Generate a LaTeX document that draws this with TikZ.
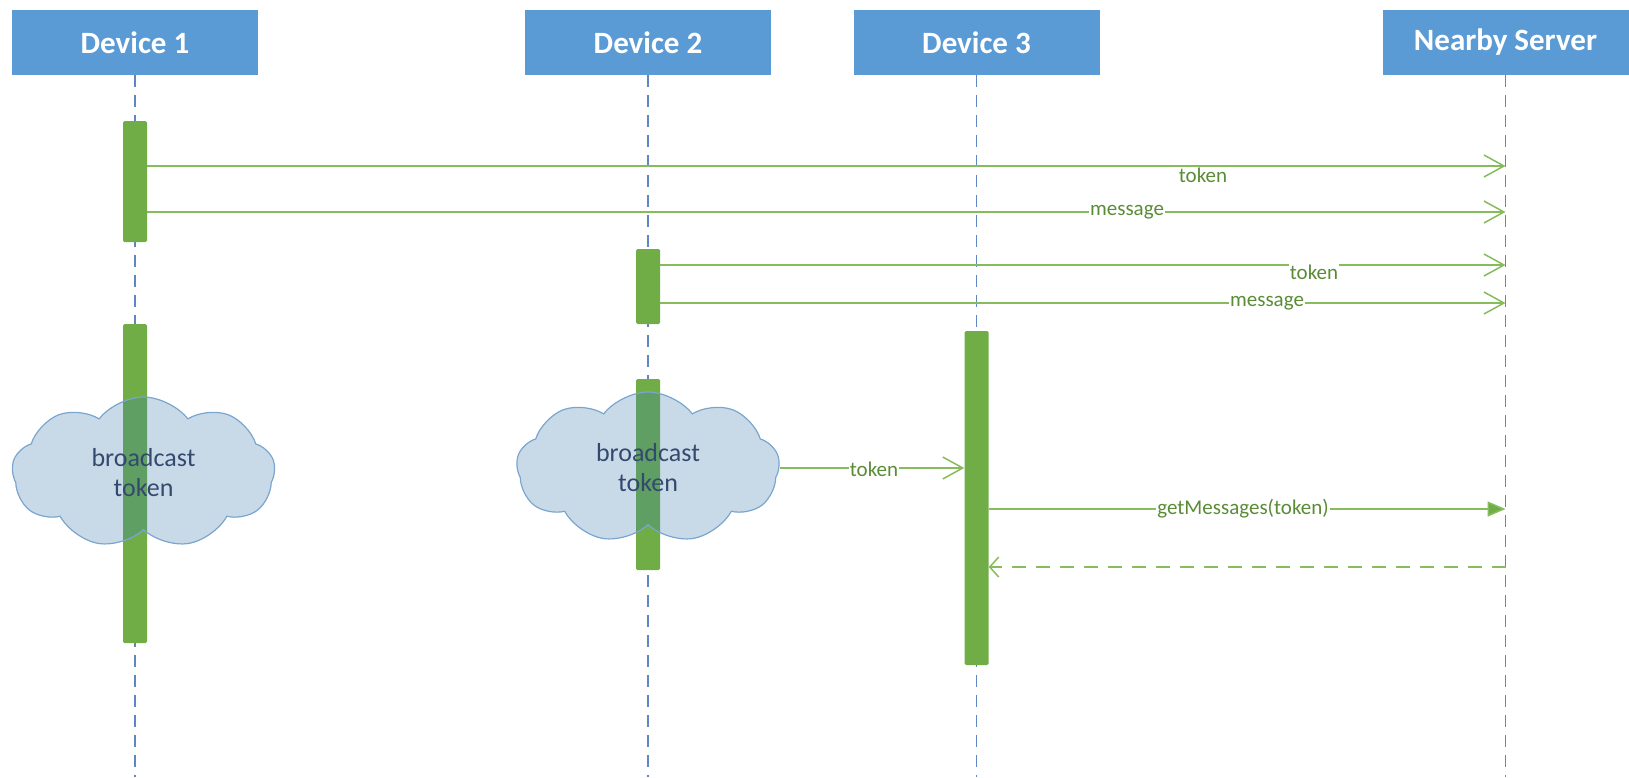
\documentclass[tikz,border=0pt]{standalone}
\usepackage{fontspec}
\setmainfont{Carlito}
\usetikzlibrary{arrows.meta,shapes.symbols}

\definecolor{hdr}{HTML}{5B9BD5}
\definecolor{life}{HTML}{5E86C1}
\definecolor{barfill}{HTML}{70AD47}
\definecolor{msg}{HTML}{86BC5C}
\definecolor{msgtext}{HTML}{5A8C36}
\definecolor{cloudline}{HTML}{7AA5CF}
\definecolor{cloudtint}{RGB}{58,123,173}
\definecolor{cloudtext}{HTML}{34496E}

\begin{document}
\begin{tikzpicture}[x=1pt,y=-1pt,
  header/.style={fill=hdr, text=white, font=\fontsize{31}{36}\selectfont\bfseries,
    minimum width=246pt, minimum height=65pt, inner sep=0pt},
  lifeline/.style={draw=life, line width=1.3pt, dash pattern=on 12pt off 8pt},
  activation/.style={fill=barfill, minimum width=24pt, inner sep=0pt, rounded corners=1.5pt},
  bubble/.style={cloud, cloud puffs=9, cloud puff arc=105, cloud ignores aspect,
    minimum width=263pt, minimum height=151pt, inner sep=0pt,
    draw=cloudline, line width=1.2pt, fill=cloudtint, fill opacity=0.28},
  bubbletext/.style={text=cloudtext, font=\fontsize{26}{30}\selectfont, align=center, inner sep=0pt},
  call/.style={draw=msg, line width=1.5pt, -{Straight Barb[length=20pt,width=22pt]}},
  sync/.style={draw=msg, line width=1.5pt, -{Triangle[length=18pt,width=15pt,fill=barfill]}},
  reply/.style={draw=msg, line width=1.5pt, dash pattern=on 14pt off 10pt,
    -{Straight Barb[length=9pt,width=20pt]}},
  msglabel/.style={fill=white, text=msgtext, font=\fontsize{21}{24}\selectfont, inner sep=1pt}
]
\useasboundingbox (0,0) rectangle (1629,777);
\coordinate (bottom) at (0,777);

% participants
\node[header] (d1) at (135,42.5) {Device 1};
\node[header] (d2) at (648,42.5) {Device 2};
\node[header] (d3) at (976.5,42.5) {Device 3};
\node[header] (srv) at (1505.5,42.5) {Nearby Server};

% lifelines
\foreach \p in {d1,d2,d3,srv}
  \draw[lifeline] (\p.south) -- (\p.south |- bottom);

% activation bars
\node[activation, minimum height=121pt] (d1a) at (135,181.5) {};
\node[activation, minimum height=319pt] (d1b) at (135,483.5) {};
\node[activation, minimum height=75pt]  (d2a) at (648,286.5) {};
\node[activation, minimum height=191pt] (d2b) at (648,474.5) {};
\node[activation, minimum height=334pt] (d3a) at (976.5,498) {};

% broadcast clouds
\node[bubble] (c1) at (143.5,472.5) {};
\node[bubble] (c2) at (648,467.5) {};
\node[bubbletext] (c1t) at (c1.center) {broadcast\\token};
\node[bubbletext] (c2t) at (c2.center) {broadcast\\token};

% message rows on the server lifeline
\coordinate (s1) at (1505.5,166);
\coordinate (s2) at (1505.5,212);
\coordinate (s3) at (1505.5,265);
\coordinate (s4) at (1505.5,303);
\coordinate (s6) at (1505.5,509);
\coordinate (s7) at (1505.5,567);

% messages
\draw[call] (d1a.east |- s1) -- (s1);
\draw[call] (d1a.east |- s2) -- (s2);
\draw[call] (d2a.east |- s3) -- (s3);
\draw[call] (d2a.east |- s4) -- (s4);
\draw[call] (c2.east |- 0,468) coordinate (c2o) -- (d3a.west |- c2o);
\draw[sync] (d3a.east |- s6) -- (s6);
\draw[reply] (s7) -- (d3a.east |- s7);

% message labels
\node[msglabel] (l1) at (1203,175) {token};
\node[msglabel] (l2) at (1127,212) {message};
\node[msglabel] (l3) at (1314,272) {token};
\node[msglabel] (l4) at (1267,303) {message};
\node[msglabel] (l5) at (874,469) {token};
\node[msglabel] (l6) at (1243,509) {getMessages(token)};
\end{tikzpicture}
\end{document}
